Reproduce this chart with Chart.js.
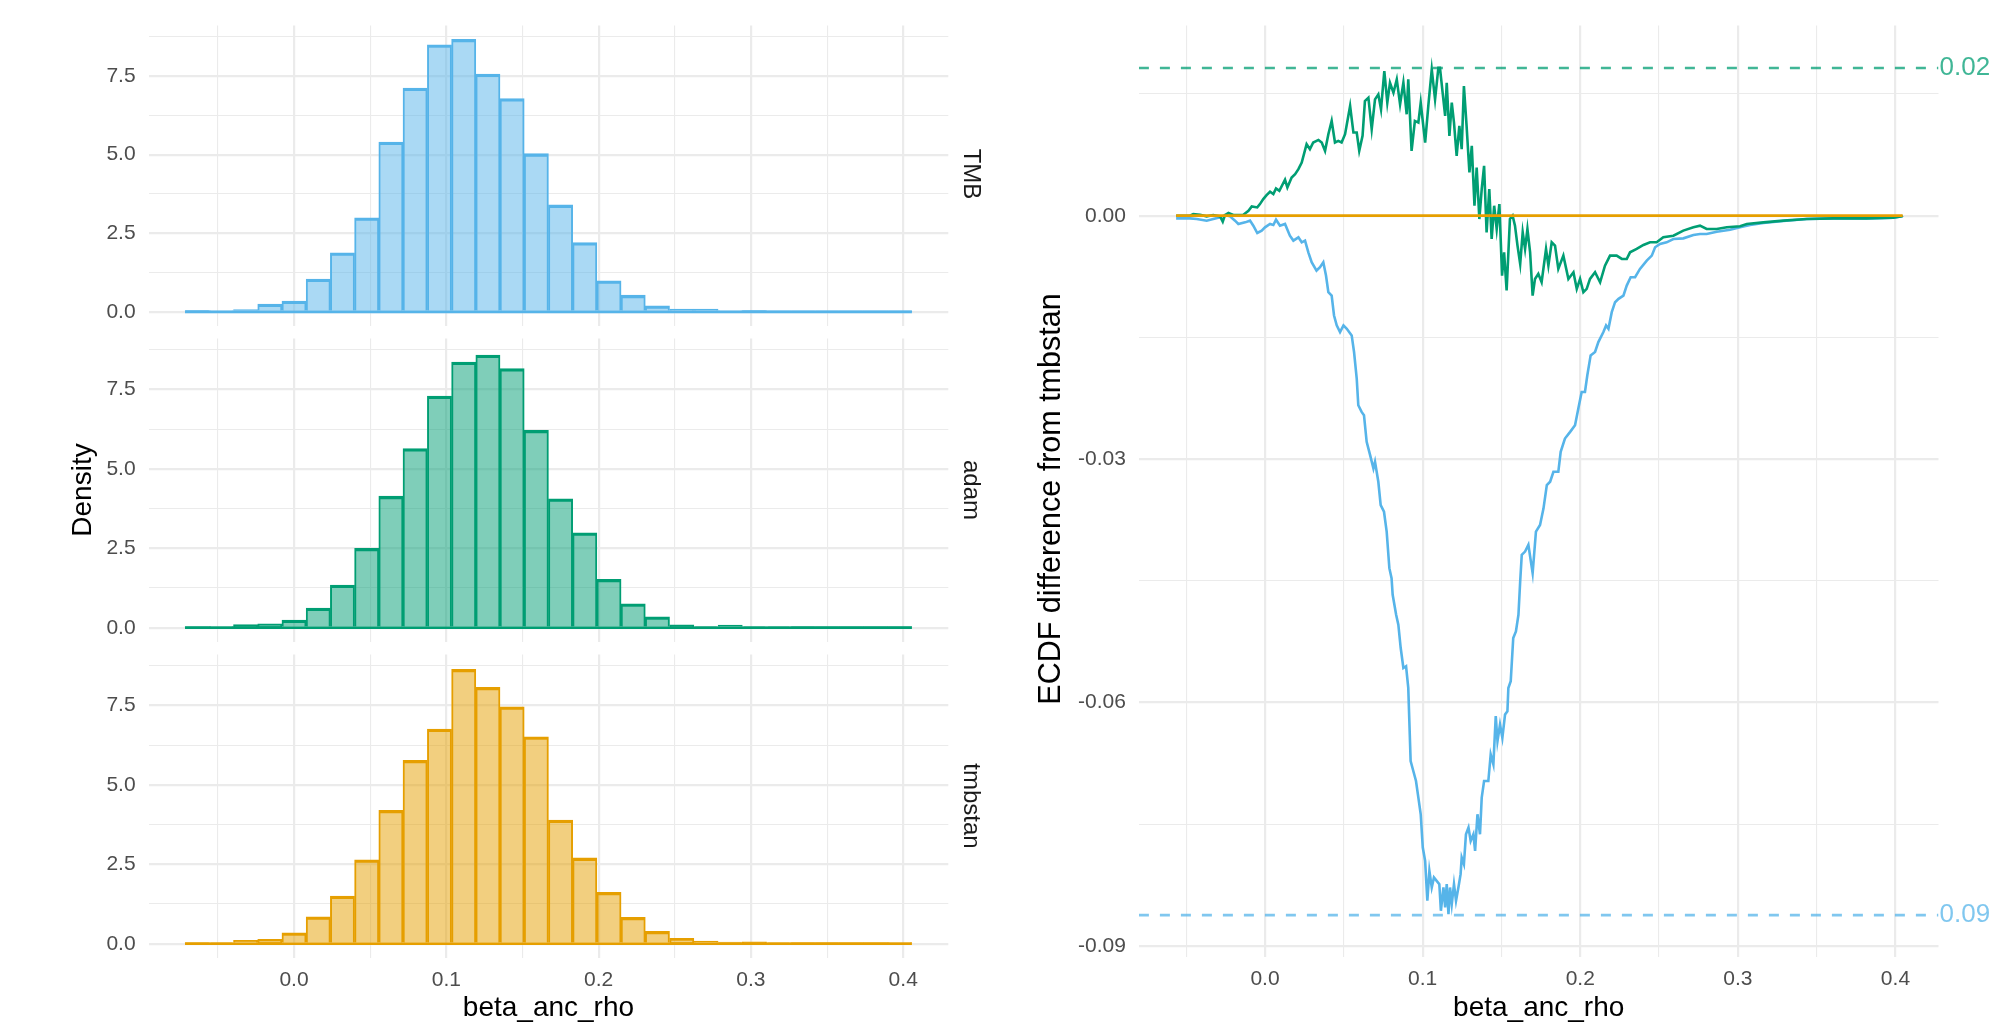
<!DOCTYPE html>
<html>
<head>
<meta charset="utf-8">
<script src="https://cdn.jsdelivr.net/npm/chart.js@4.4.1/dist/chart.umd.min.js"></script>
<style>
  html, body { margin: 0; padding: 0; background: #fff; overflow: hidden; }
  canvas { position: absolute; left: 0; top: 0; }
</style>
</head>
<body>
<canvas id="histTMB" width="1999" height="1025"></canvas>
<canvas id="histAdam" width="1999" height="1025"></canvas>
<canvas id="histTmbstan" width="1999" height="1025"></canvas>
<canvas id="ecdf" width="1999" height="1025"></canvas>
<script>
// histogram bins (30 bins, centres) and densities
const binCenters = [-0.0636, -0.0477, -0.0318, -0.0159, 0.0000, 0.0159, 0.0318, 0.0477, 0.0636, 0.0795,
  0.0955, 0.1114, 0.1273, 0.1432, 0.1591, 0.1750, 0.1909, 0.2068, 0.2227, 0.2386,
  0.2546, 0.2705, 0.2864, 0.3023, 0.3182, 0.3341, 0.3500, 0.3659, 0.3818, 0.3977];
const binEdges = [-0.0716, 0.4057];
const densTMB = [0.05, 0.03, 0.07, 0.25, 0.34, 1.04, 1.88, 2.99, 5.40, 7.12, 8.49, 8.67, 7.56, 6.78, 5.03,
  3.40, 2.20, 0.99, 0.53, 0.19, 0.09, 0.09, 0.03, 0.05, 0.02, 0.01, 0.01, 0.01, 0.01, 0.01];
const densAdam = [0.01, 0.04, 0.10, 0.12, 0.24, 0.62, 1.34, 2.50, 4.14, 5.64, 7.29, 8.36, 8.58, 8.16, 6.21,
  4.06, 2.99, 1.52, 0.75, 0.34, 0.09, 0.03, 0.08, 0.03, 0.03, 0.02, 0.01, 0.01, 0.01, 0.01];
const densTmbstan = [0.01, 0.03, 0.11, 0.14, 0.34, 0.85, 1.50, 2.64, 4.20, 5.77, 6.76, 8.64, 8.07, 7.46, 6.51,
  3.89, 2.70, 1.62, 0.83, 0.39, 0.17, 0.08, 0.05, 0.06, 0.03, 0.02, 0.02, 0.01, 0.01, 0.04];

// ECDF difference from tmbstan
const ecdfTmbX = [-0.0564, -0.0476, -0.0433, -0.0370, -0.0328, -0.0285, -0.0254, -0.0222, -0.0190, -0.0169,
  -0.0126, -0.0095, -0.0074, -0.0049, -0.0021, 0.0000, 0.0032, 0.0053, 0.0070, 0.0095,
  0.0127, 0.0158, 0.0180, 0.0212, 0.0233, 0.0254, 0.0275, 0.0296, 0.0327, 0.0349,
  0.0370, 0.0387, 0.0402, 0.0423, 0.0438, 0.0455, 0.0476, 0.0498, 0.0519, 0.0550,
  0.0565, 0.0582, 0.0592, 0.0613, 0.0628, 0.0645, 0.0667, 0.0688, 0.0698, 0.0719,
  0.0734, 0.0755, 0.0772, 0.0789, 0.0803, 0.0810, 0.0832, 0.0846, 0.0861, 0.0878,
  0.0895, 0.0909, 0.0924, 0.0941, 0.0958, 0.0973, 0.0988, 0.1001, 0.1016, 0.1030,
  0.1043, 0.1058, 0.1072, 0.1089, 0.1106, 0.1116, 0.1132, 0.1143, 0.1153, 0.1164,
  0.1174, 0.1185, 0.1199, 0.1212, 0.1227, 0.1241, 0.1248, 0.1262, 0.1275, 0.1291,
  0.1305, 0.1322, 0.1333, 0.1348, 0.1364, 0.1375, 0.1390, 0.1417, 0.1432, 0.1449,
  0.1464, 0.1475, 0.1491, 0.1506, 0.1523, 0.1538, 0.1544, 0.1559, 0.1575, 0.1592,
  0.1608, 0.1619, 0.1629, 0.1650, 0.1671, 0.1698, 0.1719, 0.1745, 0.1767, 0.1788,
  0.1809, 0.1830, 0.1861, 0.1876, 0.1903, 0.1936, 0.1967, 0.1988, 0.2009, 0.2030,
  0.2045, 0.2066, 0.2094, 0.2115, 0.2147, 0.2164, 0.2179, 0.2200, 0.2221, 0.2243,
  0.2274, 0.2295, 0.2320, 0.2348, 0.2379, 0.2422, 0.2454, 0.2475, 0.2506, 0.2548,
  0.2591, 0.2654, 0.2718, 0.2760, 0.2802, 0.2866, 0.2951, 0.3014, 0.3078, 0.3162,
  0.3289, 0.3437, 0.3606, 0.3817, 0.3986, 0.4040, 0.4046];
const ecdfTmbY = [-0.00033, -0.00033, -0.00041, -0.00061, -0.00041, -0.0002, 0.00008, -0.00008, -0.00061, -0.00102,
  -0.00082, -0.00061, -0.00123, -0.00213, -0.00184, -0.00143, -0.00102, -0.00115, -0.00049, -0.00123,
  -0.00102, -0.00246, -0.00307, -0.00266, -0.00328, -0.00307, -0.00451, -0.00574, -0.00676, -0.00635,
  -0.00574, -0.00738, -0.00943, -0.00984, -0.0123, -0.01352, -0.01434, -0.01352, -0.01393, -0.01475,
  -0.0168, -0.02008, -0.02336, -0.02418, -0.02459, -0.02787, -0.02951, -0.03115, -0.03033, -0.03279,
  -0.03566, -0.03648, -0.03893, -0.04344, -0.04467, -0.04672, -0.04918, -0.05041, -0.05328, -0.05574,
  -0.05553, -0.0582, -0.06721, -0.06844, -0.06967, -0.07172, -0.07377, -0.07787, -0.07951, -0.08443,
  -0.08074, -0.08279, -0.08156, -0.08197, -0.08238, -0.08566, -0.08279, -0.08525, -0.08238, -0.08607,
  -0.08279, -0.08484, -0.08238, -0.08443, -0.08279, -0.08115, -0.0791, -0.07992, -0.07623, -0.07541,
  -0.07705, -0.07623, -0.07828, -0.07377, -0.07623, -0.07172, -0.06967, -0.06967, -0.06639, -0.06762,
  -0.06168, -0.06475, -0.0627, -0.06434, -0.06148, -0.06107, -0.0582, -0.05738, -0.05205, -0.05123,
  -0.04918, -0.04508, -0.0418, -0.04139, -0.04057, -0.04406, -0.03893, -0.03811, -0.03607, -0.0332,
  -0.03279, -0.03156, -0.03156, -0.0291, -0.02746, -0.02664, -0.02582, -0.02377, -0.02172, -0.02172,
  -0.01967, -0.01721, -0.0168, -0.01557, -0.01434, -0.01352, -0.01393, -0.01189, -0.01066, -0.01025,
  -0.00984, -0.00861, -0.00758, -0.00758, -0.00656, -0.00553, -0.00492, -0.00389, -0.00348, -0.00328,
  -0.00287, -0.00279, -0.00238, -0.00225, -0.00225, -0.00197, -0.00172, -0.00143, -0.00115, -0.0009,
  -0.00066, -0.00041, -0.00033, -0.00033, -0.00025, -0.00008, 0];
const ecdfAdamX = [-0.0564, -0.0476, -0.0455, -0.0412, -0.0370, -0.0328, -0.0285, -0.0268, -0.0254, -0.0232,
  -0.0201, -0.0137, -0.0105, -0.0084, -0.0049, -0.0032, -0.0011, 0.0010, 0.0032, 0.0053,
  0.0070, 0.0091, 0.0127, 0.0142, 0.0169, 0.0191, 0.0212, 0.0233, 0.0264, 0.0285,
  0.0306, 0.0339, 0.0360, 0.0381, 0.0402, 0.0423, 0.0444, 0.0465, 0.0486, 0.0508,
  0.0540, 0.0561, 0.0582, 0.0598, 0.0619, 0.0634, 0.0656, 0.0677, 0.0698, 0.0719,
  0.0736, 0.0757, 0.0776, 0.0793, 0.0815, 0.0836, 0.0857, 0.0878, 0.0899, 0.0909,
  0.0930, 0.0951, 0.0973, 0.0988, 0.1016, 0.1037, 0.1058, 0.1079, 0.1100, 0.1110,
  0.1127, 0.1143, 0.1153, 0.1170, 0.1185, 0.1199, 0.1216, 0.1233, 0.1248, 0.1262,
  0.1279, 0.1297, 0.1312, 0.1329, 0.1343, 0.1360, 0.1375, 0.1390, 0.1406, 0.1423,
  0.1438, 0.1454, 0.1470, 0.1487, 0.1504, 0.1517, 0.1533, 0.1554, 0.1571, 0.1586,
  0.1602, 0.1619, 0.1635, 0.1650, 0.1665, 0.1682, 0.1698, 0.1713, 0.1734, 0.1755,
  0.1783, 0.1798, 0.1819, 0.1840, 0.1861, 0.1893, 0.1925, 0.1957, 0.1978, 0.1999,
  0.2020, 0.2041, 0.2062, 0.2094, 0.2126, 0.2157, 0.2189, 0.2231, 0.2264, 0.2295,
  0.2316, 0.2358, 0.2401, 0.2443, 0.2485, 0.2527, 0.2591, 0.2654, 0.2718, 0.2760,
  0.2802, 0.2866, 0.2930, 0.3014, 0.3057, 0.3162, 0.3289, 0.3437, 0.3606, 0.3817,
  0.3986, 0.4040, 0.4046];
const ecdfAdamY = [0, 0, 0.0002, 0.00012, -0.00008, 0.00008, -0.00008, -0.00074, 0.00008, 0.00033,
  0.00008, 0.00012, 0.00061, 0.00115, 0.00102, 0.00143, 0.00205, 0.00254, 0.00295, 0.00266,
  0.00336, 0.00307, 0.00443, 0.00348, 0.00471, 0.00512, 0.00574, 0.00656, 0.00881, 0.0082,
  0.00902, 0.00934, 0.00902, 0.00799, 0.01004, 0.01168, 0.00902, 0.00922, 0.00902, 0.01004,
  0.01352, 0.01025, 0.01025, 0.00799, 0.00984, 0.01414, 0.01455, 0.01066, 0.01434, 0.01496,
  0.01311, 0.01783, 0.01393, 0.01639, 0.01516, 0.0168, 0.01373, 0.01639, 0.0125, 0.0168,
  0.00799, 0.01168, 0.01148, 0.01393, 0.00902, 0.01373, 0.01803, 0.01434, 0.01824, 0.01824,
  0.01516, 0.0123, 0.01639, 0.00984, 0.01393, 0.01148, 0.00738, 0.01107, 0.0082, 0.01598,
  0.01107, 0.00533, 0.00861, 0.00123, 0.00594, -0.00041, 0.00328, 0.00615, -0.00205, 0.00328,
  -0.00287, 0.00123, -0.00164, 0.00143, -0.00738, -0.00451, -0.00922, -0.00041, 0, -0.00123,
  -0.00369, -0.00594, -0.00205, -0.0041, -0.00164, -0.00451, -0.00984, -0.00779, -0.00717, -0.0082,
  -0.0041, -0.00615, -0.00328, -0.00369, -0.00656, -0.00492, -0.00779, -0.00697, -0.00902, -0.00779,
  -0.00943, -0.00902, -0.00779, -0.00697, -0.0082, -0.00615, -0.00492, -0.00492, -0.00533, -0.00533,
  -0.00451, -0.0041, -0.00361, -0.00328, -0.00328, -0.00266, -0.00246, -0.00184, -0.00143, -0.00123,
  -0.00164, -0.00164, -0.00143, -0.00131, -0.00102, -0.00082, -0.00061, -0.00041, -0.00033, -0.00033,
  -0.00025, -0.00008, 0];
const ecdfTmbstanX = [-0.0564, 0.4046];
const ecdfTmbstanY = [0, 0];
const adamMaxDiff = 0.0182;
const tmbMaxDiff = -0.0862;

// axis limits and ticks
const histXRange = [-0.0955, 0.4296];
const densRange = [-0.4335, 9.1035];
const ecdfXRange = [-0.0800, 0.4273];
const diffRange = [-0.09136, 0.02343];
const xTicks = [-0.05, 0, 0.05, 0.1, 0.15, 0.2, 0.25, 0.3, 0.35, 0.4];
const xMajor = [0, 0.1, 0.2, 0.3, 0.4];
const densTicks = [0, 1.25, 2.5, 3.75, 5, 6.25, 7.5, 8.75];
const densMajor = [0, 2.5, 5, 7.5];
const diffTicks = [-0.09, -0.075, -0.06, -0.045, -0.03, -0.015, 0, 0.015];
const diffMajor = [-0.09, -0.06, -0.03, 0];

// layout (pixels)
const W = 1999, H = 1025;
const FONT = "'Liberation Sans', Arial, Helvetica, sans-serif";
const LEFT = { l: 148.6, r: 948.3 };
const PANELS = [[22.5, 325.5], [338.5, 641.5], [654.5, 957.5]];
const RIGHT = { l: 1138.9, r: 1938.5, t: 22.6, b: 957 };
const YAXIS_W = 100, XAXIS_H = 50;
const TICK_SIZE = 21;

Chart.defaults.font.family = FONT;

function isIn(list, v) {
  return list.some(function (m) { return Math.abs(m - v) < 1e-9; });
}

function textLayer(items) {
  return {
    id: 'textLayer',
    afterDraw(chart) {
      const ctx = chart.ctx;
      items.forEach(function (t) {
        const x = typeof t.x === 'function' ? t.x(chart) : t.x;
        const y = typeof t.y === 'function' ? t.y(chart) : t.y;
        ctx.save();
        ctx.translate(x, y);
        if (t.rot) ctx.rotate(t.rot);
        ctx.font = t.size + 'px ' + FONT;
        ctx.fillStyle = t.color;
        ctx.textAlign = t.align || 'center';
        ctx.textBaseline = 'middle';
        ctx.fillText(t.text, 0, 0);
        ctx.restore();
      });
    }
  };
}

function axis(range, tickList, majorList, fmt, showLabels, pad, fit) {
  return {
    type: 'linear',
    min: range[0],
    max: range[1],
    offset: false,
    afterBuildTicks: function (s) { s.ticks = tickList.map(function (v) { return { value: v }; }); },
    afterFit: fit,
    grid: {
      color: '#EBEBEB',
      lineWidth: function (c) { return (c.tick && isIn(majorList, c.tick.value)) ? 2.2 : 1.1; },
      drawTicks: false,
      offset: false
    },
    border: { display: false },
    ticks: {
      display: showLabels,
      autoSkip: false,
      maxRotation: 0,
      padding: pad,
      color: '#4D4D4D',
      font: { size: TICK_SIZE },
      callback: function (v) { return isIn(majorList, v) ? fmt(v) : ''; }
    }
  };
}

function histPanel(id, vals, line, fill, idx, strip) {
  const top = PANELS[idx][0], bottom = PANELS[idx][1];
  const last = idx === PANELS.length - 1;
  const xh = last ? XAXIS_H : 0;
  const mid = (top + bottom) / 2;
  const texts = [{ text: strip, x: 971, y: mid, rot: Math.PI / 2, size: 24, color: '#1A1A1A' }];
  if (idx === 1) texts.push({ text: 'Density', x: 83, y: mid, rot: -Math.PI / 2, size: 28, color: '#000' });
  if (last) texts.push({ text: 'beta_anc_rho', x: (LEFT.l + LEFT.r) / 2, y: 1008, size: 28, color: '#000' });

  return new Chart(document.getElementById(id), {
    type: 'bar',
    data: {
      datasets: [{
        type: 'bar',
        data: binCenters.map(function (x, i) { return { x: x, y: vals[i] }; }),
        backgroundColor: fill,
        borderColor: line,
        borderWidth: { top: 2.6, left: 1.3, right: 1.3, bottom: 0 },
        borderSkipped: false,
        barPercentage: 1,
        categoryPercentage: 1,
        order: 1
      }, {
        type: 'line',
        data: [{ x: binEdges[0], y: 0 }, { x: binEdges[1], y: 0 }],
        borderColor: line,
        borderWidth: 2.6,
        pointRadius: 0,
        order: 0
      }]
    },
    options: {
      responsive: false,
      animation: false,
      events: [],
      layout: { padding: { left: LEFT.l - YAXIS_W, right: W - LEFT.r, top: top, bottom: H - bottom - xh } },
      plugins: { legend: { display: false }, tooltip: { enabled: false } },
      scales: {
        x: axis(histXRange, xTicks, xMajor, function (v) { return v.toFixed(1); }, last, 10,
          function (s) { s.height = xh; }),
        y: axis(densRange, densTicks, densMajor, function (v) { return v.toFixed(1); }, true, 13,
          function (s) { s.width = YAXIS_W; })
      }
    },
    plugins: [textLayer(texts)]
  });
}

histPanel('histTMB', densTMB, '#56B4E9', 'rgba(86,180,233,0.5)', 0, 'TMB');
histPanel('histAdam', densAdam, '#009E73', 'rgba(0,158,115,0.5)', 1, 'adam');
histPanel('histTmbstan', densTmbstan, '#E69F00', 'rgba(230,159,0,0.5)', 2, 'tmbstan');

function ecdfSet(xs, ys, color, width, order) {
  return {
    data: xs.map(function (x, i) { return { x: x, y: ys[i] }; }),
    borderColor: color,
    borderWidth: width,
    pointRadius: 0,
    tension: 0,
    order: order
  };
}

function hline(value, color) {
  return {
    data: [{ x: ecdfXRange[0], y: value }, { x: ecdfXRange[1], y: value }],
    borderColor: color,
    borderWidth: 2.6,
    borderDash: [10, 11],
    pointRadius: 0,
    order: 3
  };
}

new Chart(document.getElementById('ecdf'), {
  type: 'line',
  data: {
    datasets: [
      ecdfSet(ecdfTmbX, ecdfTmbY, '#56B4E9', 2.6, 2),
      ecdfSet(ecdfAdamX, ecdfAdamY, '#009E73', 2.6, 1),
      ecdfSet(ecdfTmbstanX, ecdfTmbstanY, '#E69F00', 2.8, 0),
      hline(adamMaxDiff, 'rgba(0,158,115,0.75)'),
      hline(tmbMaxDiff, 'rgba(86,180,233,0.75)')
    ]
  },
  options: {
    responsive: false,
    animation: false,
    events: [],
    layout: { padding: { left: RIGHT.l - YAXIS_W, right: W - RIGHT.r, top: RIGHT.t, bottom: H - RIGHT.b - XAXIS_H } },
    plugins: { legend: { display: false }, tooltip: { enabled: false } },
    scales: {
      x: axis(ecdfXRange, xTicks, xMajor, function (v) { return v.toFixed(1); }, true, 10,
        function (s) { s.height = XAXIS_H; }),
      y: axis(diffRange, diffTicks, diffMajor, function (v) { return v.toFixed(2); }, true, 13,
        function (s) { s.width = YAXIS_W; })
    }
  },
  plugins: [textLayer([
    { text: 'ECDF difference from tmbstan', x: 1052, y: 499, rot: -Math.PI / 2, size: 30.5, color: '#000' },
    { text: 'beta_anc_rho', x: (RIGHT.l + RIGHT.r) / 2, y: 1008, size: 28, color: '#000' },
    { text: Math.abs(adamMaxDiff).toFixed(2), x: function (c) { return c.chartArea.right + 1; },
      y: function (c) { return c.scales.y.getPixelForValue(adamMaxDiff); }, align: 'left', size: 26, color: 'rgba(0,158,115,0.75)' },
    { text: Math.abs(tmbMaxDiff).toFixed(2), x: function (c) { return c.chartArea.right + 1; },
      y: function (c) { return c.scales.y.getPixelForValue(tmbMaxDiff); }, align: 'left', size: 26, color: 'rgba(86,180,233,0.75)' }
  ])]
});
</script>
</body>
</html>
